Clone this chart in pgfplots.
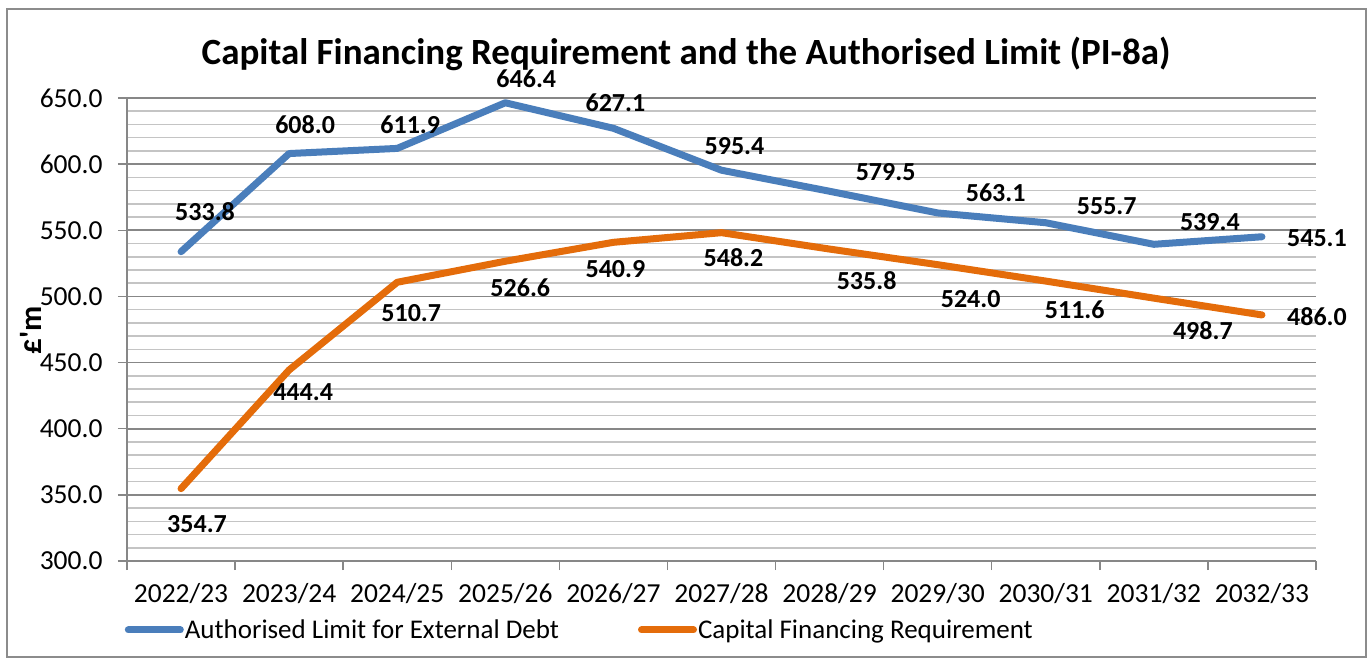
\documentclass[border=0pt]{standalone}
\usepackage{pgfplots}
\pgfplotsset{compat=1.18}
\usepackage{pgfplotstable}
\usepackage{fontspec}
\setmainfont{Carlito}
\definecolor{blueline}{HTML}{4A7EBB}
\definecolor{orangeline}{HTML}{E46C0A}
\definecolor{majgrid}{HTML}{878787}
\definecolor{mingrid}{HTML}{C4C4C4}
\definecolor{bordergray}{HTML}{8C8C8C}

\pgfplotstableread{
x y dx dy
0 533.8 24 40
1 608.0 16 29
2 611.9 13 24
3 646.4 21 24
4 627.1 2 26
5 595.4 13 24
6 579.5 56 19
7 563.1 58 20
8 555.7 61 17
9 539.4 56 22
10 545.1 55 -1
}\authtable

\pgfplotstableread{
x y dx dy
0 354.7 16 -35
1 444.4 14 -22
2 510.7 14 -31
3 526.6 15 -26
4 540.9 2 -27
5 548.2 12 -25
6 535.8 37 -32
7 524.0 33 -34
8 511.6 29 -29
9 498.7 49 -32
10 486.0 55 -2
}\cfrtable

\begin{document}
\begin{tikzpicture}[x=1pt,y=1pt]
\useasboundingbox (0,0) rectangle (1370,661);
\draw[color=bordergray, line width=1.5pt] (7,4) rectangle (1366,652);
\node[font=\fontsize{37}{44}\selectfont\bfseries, anchor=base, inner sep=0pt] at (686,596) {Capital Financing Requirement and the Authorised Limit (PI-8a)};
\node[font=\fontsize{31}{37}\selectfont\bfseries, rotate=90] at (31,331) {£\textquotesingle m};
\begin{axis}[
  at={(127pt,100pt)}, anchor=south west,
  scale only axis, width=1189pt, height=463pt,
  xmin=-0.5, xmax=10.5, ymin=300, ymax=650,
  axis x line*=bottom, axis y line*=left,
  axis line style={draw=majgrid, line width=1.5pt, -},
  xtick={-0.5,0.5,...,10.5},
  x tick label as interval,
  xticklabels={2022/23,2023/24,2024/25,2025/26,2026/27,2027/28,2028/29,2029/30,2030/31,2031/32,2032/33},
  ytick={300,350,...,650},
  minor y tick num=4,
  ymajorgrids, yminorgrids,
  major grid style={draw=majgrid, line width=1.6pt},
  minor grid style={draw=mingrid, line width=1.6pt},
  tick align=outside,
  major tick length=9pt,
  minor tick length=0pt,
  tick style={draw=majgrid, line width=1.5pt},
  /pgf/number format/.cd, fixed, fixed zerofill, precision=1, assume math mode=true,
  /pgfplots/.cd,
  ticklabel style={font=\fontsize{27.5}{33}\selectfont, text=black},
  yticklabel style={xshift=-12pt},
  xticklabel style={yshift=-10pt},
  clip=false,
  legend columns=2,
  legend style={at={(-0.002,-0.149)}, anchor=west, draw=none, fill=none,
    font=\fontsize{27}{32}\selectfont, inner sep=0pt,
    nodes={inner sep=1pt},
    /tikz/every even column/.append style={column sep=78pt}},
  legend image code/.code={\draw[#1, line width=7pt, line cap=round] (3pt,0pt) -- (55pt,0pt);},
  nodes near coords style={font=\fontsize{26}{31}\selectfont\bfseries, anchor=center, text=black},
]
\addplot[blueline, line width=7pt, line cap=round, line join=round,
  visualization depends on={\thisrow{dx}\as\dx},
  visualization depends on={\thisrow{dy}\as\dy},
  nodes near coords,
  every node near coord/.append style={xshift=\dx pt, yshift=\dy pt}]
  table[x=x, y=y] {\authtable};
\addlegendentry{Authorised Limit for External Debt}
\addplot[orangeline, line width=7pt, line cap=round, line join=round,
  visualization depends on={\thisrow{dx}\as\dx},
  visualization depends on={\thisrow{dy}\as\dy},
  nodes near coords,
  every node near coord/.append style={xshift=\dx pt, yshift=\dy pt}]
  table[x=x, y=y] {\cfrtable};
\addlegendentry{Capital Financing Requirement}
\end{axis}
\end{tikzpicture}
\end{document}
